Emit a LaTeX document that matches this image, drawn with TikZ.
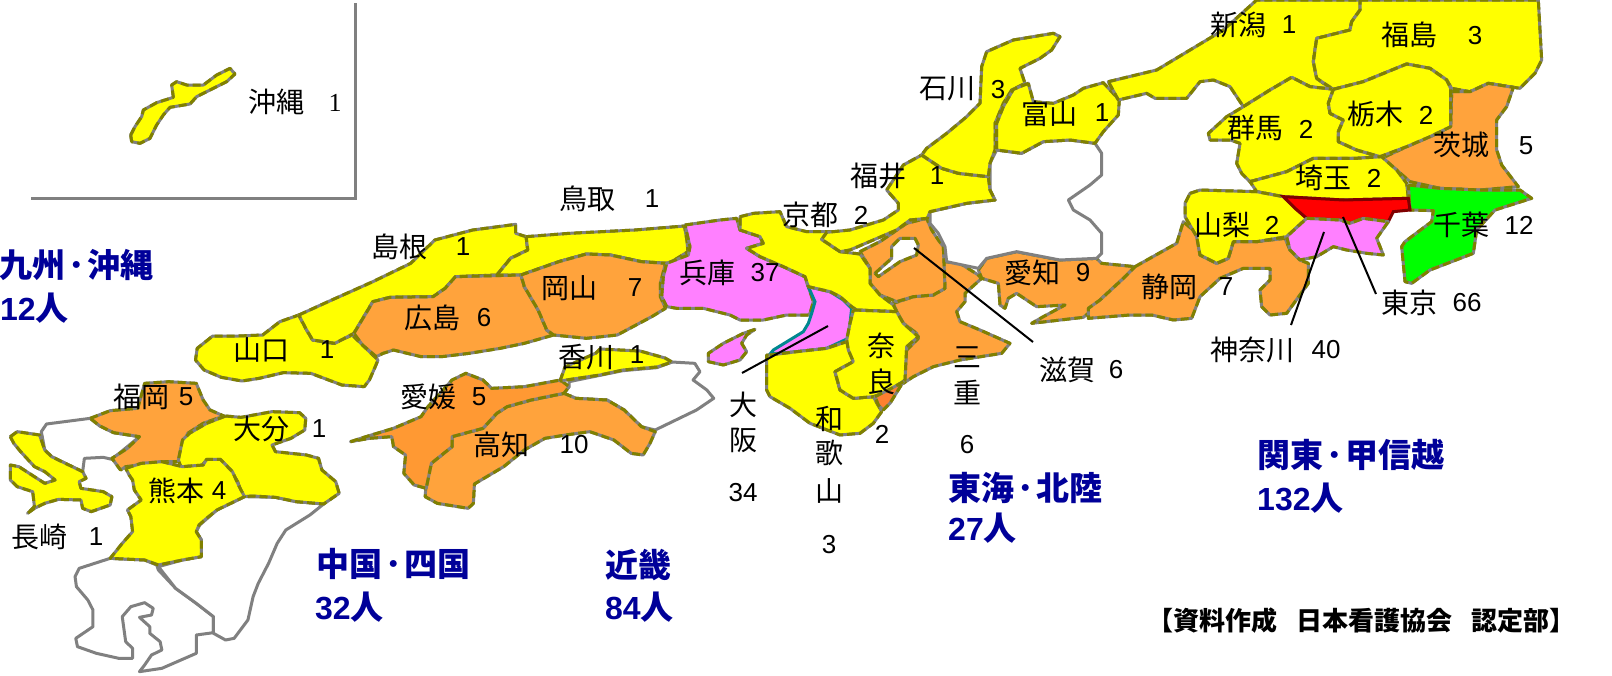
\documentclass[tikz,border=0pt]{standalone}
\usepackage{fontspec}
\setmainfont{Liberation Sans}
\newfontfamily\cjk{Noto Sans CJK JP}
\newfontfamily\serifdigit{Liberation Serif}
\definecolor{yel}{HTML}{FFFF00}
\definecolor{ora}{HTML}{FFA33C}
\definecolor{orb}{HTML}{FF9933}
\definecolor{orc}{HTML}{FF8030}
\definecolor{pin}{HTML}{FF80FF}
\definecolor{gborder}{HTML}{808080}
\definecolor{oborder}{HTML}{808000}
\definecolor{tealb}{HTML}{008890}
\definecolor{redb}{HTML}{800000}
\definecolor{regblue}{HTML}{000099}
\newcommand{\rdot}{\hspace{3pt}･\hspace{3pt}}
\newcommand{\rnum}[1]{{\normalfont\bfseries\fontsize{32}{32}\selectfont #1}}
\tikzset{
 pref/.style={draw=gborder,line width=3pt,line join=round,postaction={draw=oborder,line width=3pt,line join=round,dash pattern=on 8pt off 4pt}},
 whitepref/.style={draw=gborder,line width=3pt,line join=round,fill=white},
 lab/.style={inner sep=0pt,font=\cjk\fontsize{28}{28}\selectfont,text=black},
 num/.style={inner sep=0pt,font=\fontsize{26}{26}\selectfont,text=black},
 reg/.style={inner sep=0pt,anchor=west,text=regblue,font=\cjk\bfseries\fontsize{33}{33}\selectfont},
 leader/.style={draw=black,line width=2pt},
 frame/.style={draw=gborder,line width=3pt}
}
\begin{document}
\begin{tikzpicture}[x=1pt,y=-1pt]
\useasboundingbox (0,0) rectangle (1612,675);
\fill[white] (0,0) rectangle (1612,675);
% inset
\draw[frame] (31,198) -- (355,198) -- (355,3);
\begin{scope}[shift={(0,0)},scale=0.33333]
\draw[pref,fill=yel] plot coordinates {(392,405)(405,380)(425,350)(430,330)(470,308)(520,292)(515,255)(530,245)(560,255)(610,255)(650,225)(690,205)(705,222)(680,245)(640,265)(590,290)(570,312)(510,322)(490,345)(470,375)(450,415)(420,430)(395,425)} -- cycle;
\end{scope}
% Kyushu
\begin{scope}[shift={(0,340)},xscale=0.34435,yscale=0.33333]
\draw[whitepref] plot coordinates {(262,235)(135,252)(120,275)(130,330)(150,350)(240,395)(245,355)(300,352)(325,358)(405,290)(330,278)(290,258)} -- cycle;
\draw[whitepref] plot coordinates {(320,655)(230,685)(218,710)(222,740)(255,780)(270,810)(270,860)(220,895)(225,920)(280,940)(345,955)(385,955)(385,925)(365,905)(355,830)(380,800)(420,788)(445,805)(440,825)(405,832)(435,860)(435,880)(465,905)(470,930)(440,945)(420,975)(405,995)(470,985)(570,940)(570,885)(620,878)(620,830)(570,790)(510,745)(460,690)(455,675)(420,660)} -- cycle;
\draw[whitepref] plot coordinates {(460,680)(510,745)(570,790)(620,830)(620,880)(655,900)(680,895)(720,840)(735,770)(750,730)(780,670)(805,610)(830,570)(900,525)(940,492)(860,485)(800,472)(710,470)(630,510)(580,555)(570,575)(585,600)(585,650)(530,660)} -- cycle;
\draw[pref,fill=yel] plot coordinates {(30,290)(50,275)(115,285)(130,330)(150,350)(200,375)(240,395)(250,415)(230,425)(235,445)(300,455)(325,470)(320,495)(265,515)(240,505)(235,480)(170,478)(130,490)(100,505)(80,520)(100,500)(95,455)(50,440)(30,420)(30,375)(55,380)(130,430)(160,420)(130,395)(100,380)(60,335)(40,310)} -- cycle;
\draw[pref,fill=ora] plot coordinates {(262,235)(320,212)(400,205)(420,130)(490,125)(570,130)(590,180)(610,210)(650,228)(590,250)(545,280)(525,330)(518,365)(470,365)(410,375)(365,380)(350,390)(325,355)(370,325)(405,290)(330,278)(290,258)} -- cycle;
\draw[pref,fill=yel] plot coordinates {(655,228)(700,232)(790,215)(870,218)(888,235)(885,270)(845,295)(790,315)(800,335)(890,345)(925,355)(935,390)(975,425)(985,460)(940,492)(860,485)(800,472)(735,468)(705,470)(690,425)(670,390)(640,360)(600,360)(585,378)(525,380)(518,360)(530,300)(550,280)(600,250)} -- cycle;
\draw[pref,fill=yel] plot coordinates {(365,385)(410,370)(470,365)(530,380)(590,375)(600,358)(640,358)(675,395)(695,440)(710,470)(680,485)(630,510)(600,535)(578,555)(570,575)(585,600)(585,650)(530,660)(460,675)(420,660)(320,655)(355,610)(385,575)(380,530)(370,510)(410,480)(390,450)(385,420)(375,405)} -- cycle;
\end{scope}
% Chugoku, Shikoku
\begin{scope}[shift={(180,180)},xscale=0.34435,yscale=0.33333]
\draw[whitepref] plot coordinates {(1130,605)(1286,572)(1385,563)(1429,546)(1495,550)(1510,575)(1490,600)(1530,630)(1550,655)(1500,690)(1380,750)(1340,740)(1290,690)(1240,660)(1150,655)(1115,640)(1130,620)} -- cycle;
\draw[pref,fill=yel] plot coordinates {(345,405)(365,445)(385,480)(445,490)(500,465)(560,525)(575,540)(565,565)(550,600)(535,620)(470,615)(380,580)(300,578)(230,595)(180,603)(120,592)(70,570)(45,540)(50,505)(95,468)(170,468)(240,465)(290,425)} -- cycle;
\draw[pref,fill=yel] plot coordinates {(345,405)(430,365)(560,305)(670,250)(740,180)(850,150)(975,133)(975,160)(1005,170)(1010,210)(960,235)(920,285)(800,290)(770,325)(735,350)(610,352)(560,365)(540,400)(505,460)(450,490)(385,480)(365,445)} -- cycle;
\draw[pref,fill=yel] plot coordinates {(1005,170)(1130,160)(1320,150)(1465,138)(1472,180)(1475,215)(1420,250)(1340,245)(1250,225)(1180,222)(1100,245)(990,285)(920,285)(960,235)(1010,210)} -- cycle;
\draw[pref,fill=ora] plot coordinates {(505,460)(540,400)(560,365)(610,352)(735,350)(770,325)(800,290)(990,285)(1000,320)(1040,390)(1065,450)(1085,465)(1000,490)(930,505)(840,520)(760,530)(700,530)(620,510)(590,520)(570,530)(530,495)} -- cycle;
\draw[pref,fill=ora] plot coordinates {(990,285)(1100,245)(1180,222)(1250,225)(1340,245)(1410,250)(1395,310)(1395,350)(1410,385)(1370,410)(1270,465)(1180,475)(1085,465)(1065,450)(1040,390)(1000,320)} -- cycle;
\draw[pref,fill=ora] plot coordinates {(1115,640)(1150,655)(1240,660)(1290,690)(1340,740)(1380,755)(1365,790)(1345,825)(1310,820)(1260,780)(1190,755)(1120,765)(1060,775)(1000,810)(940,860)(855,912)(852,970)(837,985)(747,970)(712,950)(717,870)(730,850)(790,800)(790,770)(880,745)(920,700)(950,680)(1020,660)} -- cycle;
\draw[pref,fill=orb] plot coordinates {(495,785)(540,770)(620,745)(700,710)(720,680)(790,600)(830,580)(880,600)(905,625)(1000,620)(1105,600)(1130,620)(1115,640)(1020,660)(950,680)(920,700)(880,745)(790,770)(790,800)(730,850)(715,925)(680,915)(650,880)(655,825)(620,800)(615,770)(550,775)} -- cycle;
\end{scope}
% Kagawa
\draw[pref,fill=yel] plot coordinates {(560,381)(565,367)(596,353)(600,349)(640,351)(665,358)(672,362)(657,367)(623,370)(600,375)(573,379)} -- cycle;
% Kinki, Tokai west
\begin{scope}[shift={(640,180)},scale=0.33333]
\draw[pref,fill=pin] plot coordinates {(345,448)(310,460)(250,490)(205,520)(205,545)(250,555)(300,540)(320,515)(305,490)(320,465)} -- cycle;
\draw[pref,fill=pin] plot coordinates {(135,135)(240,120)(290,115)(300,150)(360,170)(370,190)(320,205)(360,230)(430,260)(495,290)(505,320)(520,365)(510,400)(505,405)(440,405)(370,420)(300,420)(270,405)(190,385)(110,385)(80,380)(65,350)(70,290)(80,250)(145,225)(150,200)} -- cycle;
\draw[draw=tealb,line width=3pt,fill=pin] plot coordinates {(505,320)(570,335)(610,360)(635,385)(630,430)(625,475)(560,505)(470,515)(390,522)(400,510)(490,455)(505,430)(515,400)(525,365)} -- cycle;
\draw[pref,fill=ora] plot coordinates {(915,245)(960,250)(1015,285)(1025,295)(975,340)(975,365)(950,395)(960,425)(1020,450)(1110,490)(1085,520)(960,540)(880,560)(820,590)(790,610)(800,510)(835,475)(830,460)(790,430)(770,395)(760,370)(820,350)(880,345)(915,325)(910,250)} -- cycle;
\draw[pref,fill=ora] plot coordinates {(660,215)(720,185)(800,130)(860,115)(875,150)(895,180)(910,200)(915,325)(880,345)(820,350)(770,365)(720,345)(690,310)(690,265)} -- cycle;
\draw[pref,fill=white] plot coordinates {(705,280)(755,235)(755,200)(780,175)(825,175)(835,195)(830,225)(780,245)(715,290)} -- cycle;
\draw[pref,fill=yel] plot coordinates {(300,110)(340,100)(420,95)(440,140)(500,155)(600,155)(640,150)(545,178)(600,215)(660,222)(690,265)(690,310)(720,345)(760,375)(770,395)(650,390)(635,380)(600,350)(570,335)(505,320)(495,290)(430,260)(360,230)(320,205)(370,190)(360,170)(300,150)} -- cycle;
\draw[pref,fill=yel] plot coordinates {(390,525)(470,515)(560,505)(620,485)(640,545)(585,575)(600,630)(640,655)(700,650)(725,695)(700,730)(660,760)(600,765)(510,730)(450,685)(390,650)(380,630)(380,525)} -- cycle;
\draw[pref,fill=yel] plot coordinates {(640,390)(770,395)(790,430)(835,470)(800,500)(795,600)(745,635)(700,650)(640,655)(600,630)(585,575)(640,545)(625,510)(620,480)(630,430)} -- cycle;
\draw[pref,fill=orc] plot coordinates {(705,650)(745,630)(790,605)(750,670)(730,690)(715,675)} -- cycle;
\draw[pref,fill=ora] plot coordinates {(1015,270)(1040,235)(1130,215)(1260,240)(1370,235)(1385,250)(1485,260)(1445,300)(1380,360)(1345,400)(1330,412)(1175,430)(1210,410)(1275,375)(1190,380)(1130,340)(1105,355)(1095,385)(1080,375)(1075,310)(1025,295)} -- cycle;
\end{scope}
% Hokuriku, Gifu
\begin{scope}[shift={(840,0)},scale=0.33333]
\draw[whitepref] plot coordinates {(470,450)(545,460)(610,425)(690,420)(765,430)(785,460)(785,525)(750,555)(685,600)(700,630)(750,660)(785,700)(785,760)(770,775)(660,780)(530,755)(440,775)(415,805)(320,785)(315,740)(295,700)(270,670)(270,635)(380,610)(465,600)(450,570)(450,490)} -- cycle;
\draw[pref,fill=yel] plot coordinates {(245,465)(305,505)(355,520)(445,530)(450,570)(465,600)(380,610)(270,635)(262,655)(210,660)(170,690)(100,720)(30,750)(0,755)(-55,718)(-40,697)(30,690)(130,660)(175,630)(175,610)(140,570)(190,495)} -- cycle;
\draw[pref,fill=yel] plot coordinates {(245,465)(305,505)(355,520)(445,530)(450,490)(465,450)(465,370)(490,310)(515,270)(555,250)(540,205)(600,175)(635,150)(660,110)(640,100)(520,120)(440,155)(425,200)(420,310)(380,350)(320,400)(260,445)} -- cycle;
\draw[pref,fill=yel] plot coordinates {(565,250)(520,268)(490,320)(470,370)(470,450)(545,460)(610,425)(690,420)(765,430)(790,395)(835,345)(838,300)(790,248)(730,265)(700,285)(640,310)(580,305)} -- cycle;
\end{scope}
% Kanto
\begin{scope}[shift={(1130,0)},scale=0.33333]
\draw[pref,fill=ora] plot coordinates {(15,800)(140,730)(160,665)(200,700)(210,765)(260,790)(295,775)(310,725)(380,725)(465,715)(480,750)(510,780)(535,790)(535,850)(470,940)(420,945)(395,920)(390,870)(420,840)(420,805)(340,805)(270,835)(210,890)(185,955)(130,960)(65,945)(0,945)(-125,955)(-125,925)(-90,900)(-25,840)} -- cycle;
\draw[pref,fill=yel] plot coordinates {(-65,245)(80,210)(180,150)(280,90)(380,0)(690,0)(690,30)(665,65)(660,90)(560,115)(550,185)(560,235)(605,268)(540,260)(485,232)(420,270)(340,320)(300,260)(250,240)(210,245)(170,295)(75,295)(50,280)(-35,300)} -- cycle;
\draw[pref,fill=yel] plot coordinates {(690,0)(1225,0)(1235,180)(1215,220)(1170,265)(1075,250)(1020,275)(965,265)(950,240)(900,205)(830,192)(700,245)(610,268)(560,235)(550,185)(560,115)(660,90)(665,65)(690,30)} -- cycle;
\draw[pref,fill=ora] plot coordinates {(965,275)(1020,275)(1075,250)(1150,262)(1130,320)(1100,360)(1100,450)(1115,495)(1165,560)(1050,570)(930,565)(840,545)(800,510)(755,475)(830,440)(900,410)(962,380)} -- cycle;
\draw[pref,fill=yel] plot coordinates {(340,320)(420,270)(485,232)(540,260)(610,268)(595,310)(600,340)(640,360)(625,395)(625,425)(680,450)(750,470)(680,475)(550,475)(470,515)(360,545)(335,520)(320,490)(330,430)(300,420)(240,420)(235,400)(290,350)} -- cycle;
\draw[pref,fill=yel] plot coordinates {(610,268)(700,245)(830,192)(900,205)(950,240)(962,265)(962,380)(900,410)(830,440)(750,470)(680,450)(625,425)(625,395)(640,360)(600,340)(595,310)} -- cycle;
\draw[pref,fill=yel] plot coordinates {(360,545)(470,515)(550,475)(680,475)(755,470)(800,510)(830,550)(835,595)(640,600)(460,590)(380,575)} -- cycle;
\draw[pref,fill=green] plot coordinates {(835,555)(930,565)(1050,570)(1170,570)(1205,595)(1095,630)(1040,690)(1030,760)(900,810)(845,850)(825,845)(815,740)(825,725)(905,665)(910,632)(840,630)} -- cycle;
\draw[pref,fill=yel] plot coordinates {(180,580)(210,570)(380,575)(460,590)(530,655)(470,710)(380,725)(310,725)(295,775)(260,790)(210,765)(200,710)(165,650)(165,610)} -- cycle;
\draw[draw=redb,line width=3pt,fill=red] plot coordinates {(460,590)(640,600)(835,595)(840,630)(790,635)(775,665)(700,655)(660,670)(630,660)(530,655)(495,625)} -- cycle;
\draw[pref,fill=pin] plot coordinates {(530,655)(630,660)(660,670)(700,655)(775,665)(740,715)(760,765)(710,760)(650,750)(610,740)(560,770)(510,780)(480,750)(470,710)} -- cycle;
\end{scope}
% leaders
\coordinate (tokyoA) at (1343,217); \coordinate (tokyoB) at (1376,294);
\coordinate (kanaA) at (1324,232); \coordinate (kanaB) at (1291,325);
\coordinate (shigaA) at (914,248); \coordinate (shigaB) at (1033,342);
\coordinate (osakaA) at (828,326); \coordinate (osakaB) at (742,373);
\draw[leader] (tokyoA) -- (tokyoB);
\draw[leader] (kanaA) -- (kanaB);
\draw[leader] (shigaA) -- (shigaB);
\draw[leader] (osakaA) -- (osakaB);
% labels
\node[lab] (l01) at (276,102) {沖縄};
\node[num,font=\serifdigit\fontsize{26}{26}\selectfont] (n01) at (335,103) {1};
\node[lab] (l02) at (1238,25) {新潟}; \node[num] (n02) at (1289,25) {1};
\node[lab] (l03) at (1409,35) {福島}; \node[num] (n03) at (1475,36) {3};
\node[lab] (l04) at (947,89) {石川}; \node[num] (n04) at (998,90) {3};
\node[lab] (l05) at (1049,114) {富山}; \node[num] (n05) at (1102,113) {1};
\node[lab] (l06) at (1255,128) {群馬}; \node[num] (n06) at (1306,129) {2};
\node[lab] (l07) at (1375,114) {栃木}; \node[num] (n07) at (1426,115) {2};
\node[lab] (l08) at (1461,145) {茨城}; \node[num] (n08) at (1526,146) {5};
\node[lab] (l09) at (1323,178) {埼玉}; \node[num] (n09) at (1374,178) {2};
\node[lab] (l10) at (1222,225) {山梨}; \node[num] (n10) at (1272,225) {2};
\node[lab] (l11) at (1461,225) {千葉}; \node[num] (n11) at (1519,225) {12};
\node[lab] (l12) at (1169,287) {静岡}; \node[num] (n12) at (1226,287) {7};
\node[lab] (l13) at (1409,303) {東京}; \node[num] (n13) at (1467,303) {66};
\node[lab] (l14) at (1252,350) {神奈川}; \node[num] (n14) at (1326,350) {40};
\node[lab] (l15) at (1067,370) {滋賀}; \node[num] (n15) at (1116,370) {6};
\node[lab] (l16) at (1032,273) {愛知}; \node[num] (n16) at (1083,273) {9};
\node[lab] (l17) at (810,215) {京都}; \node[num] (n17) at (861,215) {2};
\node[lab] (l18) at (707,273) {兵庫}; \node[num] (n18) at (765,273) {37};
\node[lab] (l19) at (878,176) {福井}; \node[num] (n19) at (937,176) {1};
\node[lab] (l20) at (587,199) {鳥取}; \node[num] (n20) at (652,199) {1};
\node[lab] (l21) at (399,247) {島根}; \node[num] (n21) at (463,247) {1};
\node[lab] (l22) at (569,288) {岡山}; \node[num] (n22) at (635,288) {7};
\node[lab] (l23) at (432,318) {広島}; \node[num] (n23) at (484,318) {6};
\node[lab] (l24) at (261,350) {山口}; \node[num] (n24) at (327,350) {1};
\node[lab] (l25) at (586,357) {香川}; \node[num] (n25) at (637,355) {1};
\node[lab] (l26) at (428,397) {愛媛}; \node[num] (n26) at (479,397) {5};
\node[lab] (l27) at (501,445) {高知}; \node[num] (n27) at (574,445) {10};
\node[lab] (l28) at (261,429) {大分}; \node[num] (n28) at (319,429) {1};
\node[lab] (l29) at (141,397) {福岡}; \node[num] (n29) at (186,397) {5};
\node[lab] (l30) at (176,491) {熊本}; \node[num] (n30) at (219,491) {4};
\node[lab] (l31) at (39,537) {長崎}; \node[num] (n31) at (96,537) {1};
\node[lab] (l32a) at (881,346) {奈}; \node[lab] (l32b) at (881,382) {良}; \node[num] (n32) at (882,434) {2};
\node[lab] (l33a) at (743,405) {大}; \node[lab] (l33b) at (743,440) {阪}; \node[num] (n33) at (743,493) {34};
\node[lab] (l34a) at (829,419) {和}; \node[lab] (l34b) at (829,453) {歌}; \node[lab] (l34c) at (829,491) {山}; \node[num] (n34) at (829,545) {3};
\node[lab] (l35a) at (967,357) {三}; \node[lab] (l35b) at (967,392) {重}; \node[num] (n35) at (967,445) {6};
% regions
\node[reg] (r1a) at (-1,265) {九州\rdot 沖縄}; \node[reg] (r1b) at (0,308) {\rnum{12}人};
\node[reg] (r2a) at (316,564) {中国\rdot 四国}; \node[reg] (r2b) at (315,607) {\rnum{32}人};
\node[reg] (r3a) at (605,565) {近畿}; \node[reg] (r3b) at (605,607) {\rnum{84}人};
\node[reg] (r4a) at (948,488) {東海\rdot 北陸}; \node[reg] (r4b) at (948,528) {\rnum{27}人};
\node[reg] (r5a) at (1257,455) {関東\rdot 甲信越}; \node[reg] (r5b) at (1257,498) {\rnum{132}人};
\node[inner sep=0pt,anchor=west,text=black,font=\cjk\bfseries\fontsize{26}{26}\selectfont] (foot) at (1147,621) {【資料作成\hspace{19pt}日本看護協会\hspace{19pt}認定部】};
\end{tikzpicture}
\end{document}
